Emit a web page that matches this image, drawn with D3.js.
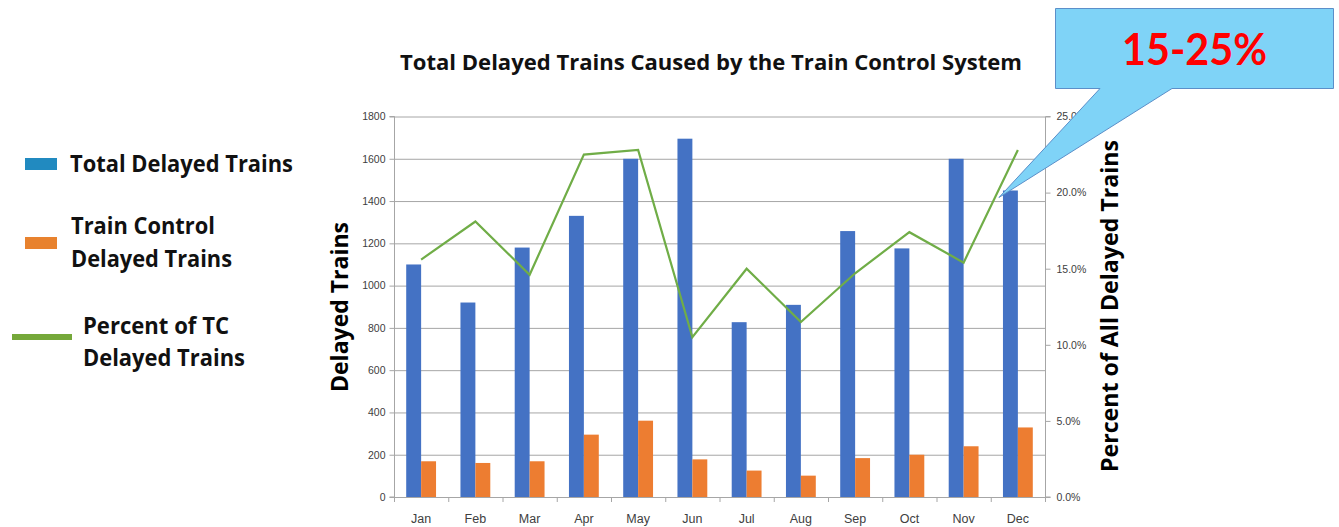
<!DOCTYPE html>
<html><head><meta charset="utf-8">
<script src="https://cdn.jsdelivr.net/npm/d3@7"></script>
<style>
html,body{margin:0;padding:0;background:#fff;}
svg{display:block;font-family:"Open Sans",sans-serif;}
</style></head>
<body>
<svg id="c" width="1339" height="527"></svg>
<script>
const months = ["Jan","Feb","Mar","Apr","May","Jun","Jul","Aug","Sep","Oct","Nov","Dec"];
const totalDelayed = [1100, 920, 1180, 1330, 1600, 1695, 827, 909, 1258, 1176, 1600, 1450];
const tcDelayed    = [169, 161, 169, 295, 361, 178, 125, 101, 184, 200, 240, 329];
const pctTC        = [0.156, 0.181, 0.146, 0.225, 0.228, 0.105, 0.150, 0.115, 0.147, 0.174, 0.154, 0.228];
const leftTicks = [0,200,400,600,800,1000,1200,1400,1600,1800];
const rightTicks = [0,0.05,0.10,0.15,0.20,0.25];

const svg = d3.select("#c");
const L = 394, R = 1045, T = 116.5, B = 497;

const x = d3.scaleBand().domain(months).range([L, R]).paddingInner(0).paddingOuter(0);
const yL = d3.scaleLinear().domain([0,1800]).range([B, T]);
const yR = d3.scaleLinear().domain([0,0.25]).range([B, T]);

const gridColor = "#a6a6a6";
const tickTextColor = "#404040";

function fit(sel, w){ sel.attr("textLength", w).attr("lengthAdjust","spacingAndGlyphs"); return sel; }

// gridlines
svg.append("g").selectAll("line").data(leftTicks).join("line")
  .attr("x1", L).attr("x2", R).attr("y1", d=>yL(d)+0.5).attr("y2", d=>yL(d)+0.5)
  .attr("stroke", gridColor).attr("stroke-width", 1);

// bars
const bw = x.bandwidth()*0.275;
const gx = d => x(d) + x.bandwidth()/2;
svg.append("g").selectAll("rect").data(months).join("rect")
  .attr("x", (d)=>gx(d)-bw).attr("width", bw)
  .attr("y", (d,i)=>yL(totalDelayed[i])).attr("height",(d,i)=>B-yL(totalDelayed[i]))
  .attr("fill","#4472c4");
svg.append("g").selectAll("rect").data(months).join("rect")
  .attr("x", (d)=>gx(d)).attr("width", bw)
  .attr("y", (d,i)=>yL(tcDelayed[i])).attr("height",(d,i)=>B-yL(tcDelayed[i]))
  .attr("fill","#ed7d31");

// line
const line = d3.line().x((d,i)=>gx(months[i])).y(d=>yR(d));
svg.append("path").datum(pctTC).attr("d", line)
  .attr("fill","none").attr("stroke","#70ad47").attr("stroke-width",2.2).attr("stroke-linejoin","miter");

// axes
const axL = d3.axisLeft(yL).tickValues(leftTicks).tickSize(5).tickPadding(4).tickFormat(d3.format("d"));
const gL = svg.append("g").attr("transform",`translate(${L+0.5},0)`).call(axL);
const axR = d3.axisRight(yR).tickValues(rightTicks).tickSize(5).tickPadding(6).tickFormat(d3.format(".1%"));
const gR = svg.append("g").attr("transform",`translate(${R+0.5},0)`).call(axR);
const axB = d3.axisBottom(x).tickSize(0).tickPadding(0);
const gB = svg.append("g").attr("transform",`translate(0,${B+0.5})`).call(axB);
svg.append("g").selectAll("line").data(d3.range(13)).join("line")
  .attr("x1", i=>L + i*x.step()+0.5).attr("x2", i=>L + i*x.step()+0.5)
  .attr("y1", B).attr("y2", B+5).attr("stroke", gridColor);

[gL,gR,gB].forEach(g=>{
  g.select(".domain").attr("stroke", gridColor);
  g.selectAll(".tick line").attr("stroke", gridColor);
  g.selectAll("text").attr("fill", tickTextColor);
});
gL.selectAll("text").attr("font-size",10.5);
gR.selectAll("text").attr("font-size",10.5);
gB.selectAll("text").attr("font-size",12.5).attr("dy",null).attr("y",25);
gR.select(".domain").attr("d", `M5,${T}H0V${B}H5`);
gL.select(".domain").attr("d", `M-5,${T}H0V${B}H-5`);
gB.select(".domain").attr("d", `M${L},0H${R}`);

// title
fit(svg.append("text").attr("x", 400).attr("y", 70)
  .attr("font-weight","bold").attr("font-size",22).attr("fill","#111")
  .text("Total Delayed Trains Caused by the Train Control System"), 622);

// axis titles
fit(svg.append("text").attr("transform","translate(348,392) rotate(-90)")
  .attr("font-weight","bold").attr("font-size",23).attr("fill","#000").text("Delayed Trains"), 170);
fit(svg.append("text").attr("transform","translate(1118,472) rotate(-90)")
  .attr("font-weight","bold").attr("font-size",23).attr("fill","#000").text("Percent of All Delayed Trains"), 332);

// legend
const lg = svg.append("g");
lg.append("rect").attr("x",25).attr("y",158).attr("width",32).attr("height",12).attr("fill","#218ac0");
lg.append("rect").attr("x",25).attr("y",237).attr("width",32).attr("height",12).attr("fill","#e8822e");
lg.append("rect").attr("x",12).attr("y",334).attr("width",60).attr("height",6).attr("fill","#75a83a");
const legText = [
  {x:70, y:172, t:"Total Delayed Trains", w:223},
  {x:71, y:234, t:"Train Control", w:144},
  {x:71, y:267, t:"Delayed Trains", w:161},
  {x:83, y:334, t:"Percent of TC", w:146},
  {x:83, y:366, t:"Delayed Trains", w:162}
];
lg.selectAll("text").data(legText).join("text")
  .attr("x",d=>d.x).attr("y",d=>d.y).attr("font-weight","bold").attr("font-size",22.5)
  .attr("fill","#111").attr("textLength",d=>d.w).attr("lengthAdjust","spacingAndGlyphs").text(d=>d.t);

// callout
const tipX = gx("Dec") - bw - 4, tipY = yL(1450) + 7;
svg.append("path")
  .attr("d", `M1055.5,8.5H1333.5V88.5H1172L${tipX},${tipY}L1100,88.5H1055.5Z`)
  .attr("fill","#7fd3f7").attr("stroke","#5b8fc9").attr("stroke-width",1);
fit(svg.append("text").attr("x",1122).attr("y",65)
  .attr("font-family","Lato,'Open Sans',sans-serif")
  .attr("font-weight","bold").attr("font-size",44).attr("fill","#ff0000").text("15-25%"), 145);
</script>
</body></html>
